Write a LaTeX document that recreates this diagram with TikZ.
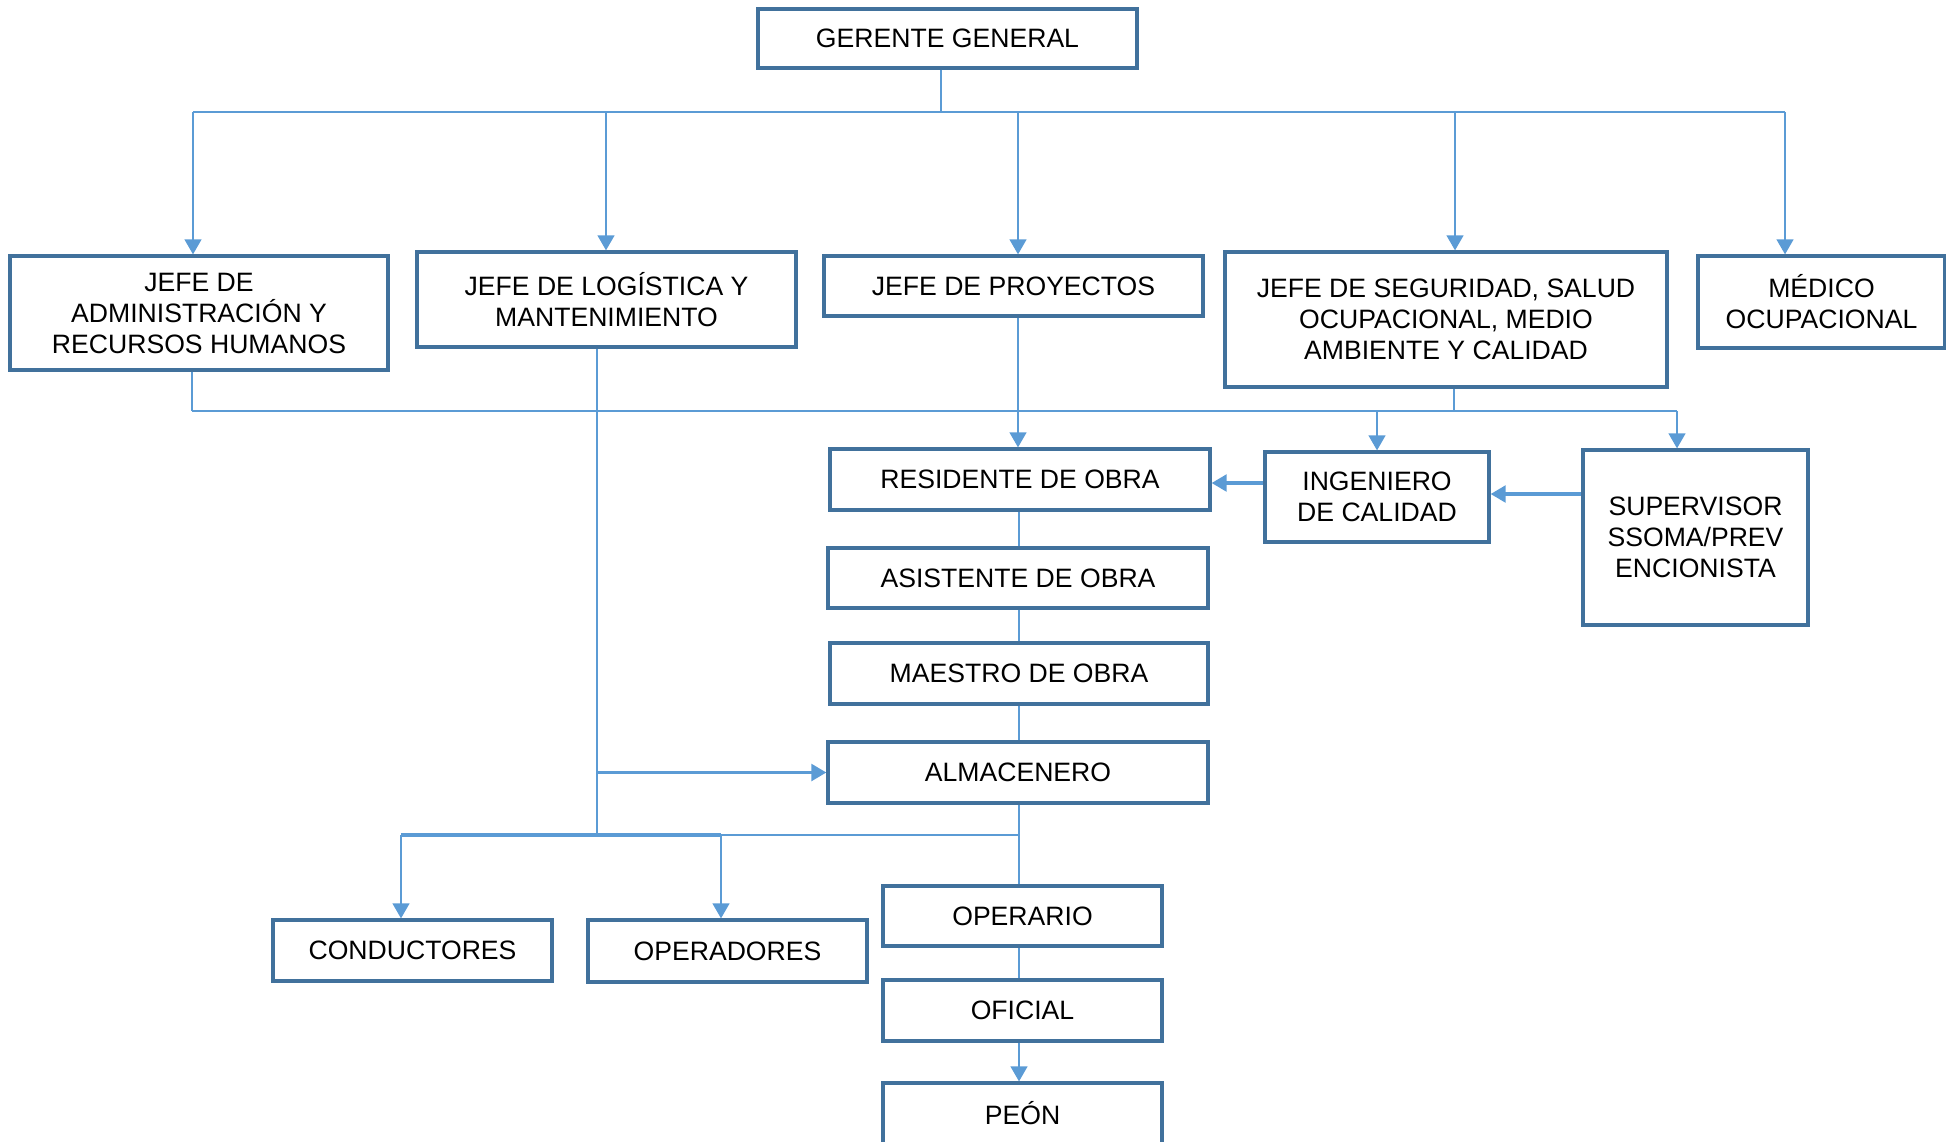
\documentclass[tikz,border=0pt]{standalone}
\usepackage{fontspec}
\setmainfont{Liberation Sans}
\usetikzlibrary{arrows.meta}
\definecolor{boxblue}{HTML}{41719C}
\definecolor{linkblue}{HTML}{5B9BD5}
\tikzset{
  box/.style={draw=boxblue, line width=1.6pt, fill=white, align=center,
    inner sep=0pt, font=\fontsize{13.3}{15.5}\selectfont},
  link/.style={draw=linkblue},
  lthin/.style={link, line width=0.7pt},
  lmed/.style={link, line width=1.2pt},
  lthick/.style={link, line width=1.7pt},
  arr/.style={-{Triangle[length=7.5pt,width=8.3pt]}, linkblue},
}
\begin{document}
\begin{tikzpicture}[x=0.5pt,y=-0.5pt]
\useasboundingbox (0,0) rectangle (1946,1141);

% organisation boxes
\node[box, minimum width=189.5pt, minimum height=29.5pt] (ger) at (947.5,38.5) {GERENTE GENERAL};
\node[box, minimum width=189pt, minimum height=57pt] (adm) at (199,313) {JEFE DE\\ADMINISTRACIÓN Y\\RECURSOS HUMANOS};
\node[box, minimum width=189.5pt, minimum height=47.5pt] (log) at (606.5,299.5) {JEFE DE LOGÍSTICA Y\\MANTENIMIENTO};
\node[box, minimum width=189.5pt, minimum height=30pt] (proy) at (1013.5,286) {JEFE DE PROYECTOS};
\node[box, minimum width=221pt, minimum height=67.5pt] (seg) at (1446,319.5) {JEFE DE SEGURIDAD, SALUD\\OCUPACIONAL, MEDIO\\AMBIENTE Y CALIDAD};
\node[box, minimum width=123.5pt, minimum height=46pt] (med) at (1821.5,302) {MÉDICO\\OCUPACIONAL};

\node[box, minimum width=190pt, minimum height=30.5pt] (res) at (1020,479.5) {RESIDENTE DE OBRA};
\node[box, minimum width=112pt, minimum height=45pt] (ing) at (1377,497) {INGENIERO\\DE CALIDAD};
\node[box, minimum width=112.5pt, minimum height=87.5pt] (sup) at (1695.5,537.5) {SUPERVISOR\\SSOMA/PREV\\ENCIONISTA};
\node[box, minimum width=190pt, minimum height=30pt] (asis) at (1018,578) {ASISTENTE DE OBRA};
\node[box, minimum width=189pt, minimum height=30.5pt] (mae) at (1019,673.5) {MAESTRO DE OBRA};
\node[box, minimum width=190pt, minimum height=30.5pt] (alm) at (1018,772.5) {ALMACENERO};

\node[box, minimum width=139.5pt, minimum height=30.5pt] (cond) at (412.5,950.5) {CONDUCTORES};
\node[box, minimum width=139.5pt, minimum height=31pt] (oper) at (727.5,951) {OPERADORES};
\node[box, minimum width=139.5pt, minimum height=30pt] (opr) at (1022.5,916) {OPERARIO};
\node[box, minimum width=139.5pt, minimum height=30.5pt] (ofi) at (1022.5,1010.5) {OFICIAL};
\node[box, minimum width=139.5pt, minimum height=30.5pt] (peon) at (1022.5,1113.5) {PEÓN};

% junction points of the connector bars
\coordinate (b0) at (941,112);
\coordinate (b1) at (193,112);
\coordinate (b2) at (606,112);
\coordinate (b3) at (1018,112);
\coordinate (b4) at (1455,112);
\coordinate (b5) at (1785,112);

\coordinate (c1) at (192,411);
\coordinate (cs) at (1454,411);
\coordinate (ci) at (1377,411);
\coordinate (ce) at (1677,411);

\coordinate (lg) at (597,835);
\coordinate (d1) at (401,835);
\coordinate (d2) at (721,835);
\coordinate (d3) at (1019,835);
\coordinate (v) at (1019,0);
\coordinate (h1) at (0,483);
\coordinate (h2) at (0,494);

% general manager to department heads
\draw[lthin] (ger.south -| b0) -- (b0);
\draw[lmed] (b1) -- (b5);
\draw[lmed, arr] (b1) -- (b1 |- adm.north);
\draw[lmed, arr] (b2) -- (b2 |- log.north);
\draw[lmed, arr] (b3) -- (b3 |- proy.north);
\draw[lmed, arr] (b4) -- (b4 |- seg.north);
\draw[lmed, arr] (b5) -- (b5 |- med.north);

% staff bar below the department heads
\draw[lthin] (adm.south -| c1) -- (c1);
\draw[lthin] (c1) -- (ce);
\draw[lthin] (seg.south -| cs) -- (cs);
\draw[lmed, arr] (ci) -- (ci |- ing.north);
\draw[lmed, arr] (ce) -- (ce |- sup.north);

% projects line
\draw[lmed, arr] (proy.south -| b3) -- (res.north -| b3);
\draw[lthick, arr] (ing.west |- h1) -- (res.east |- h1);
\draw[lthick, arr] (sup.west |- h2) -- (ing.east |- h2);
\draw[lthin] (res.south -| v) -- (asis.north -| v);
\draw[lthin] (asis.south -| v) -- (mae.north -| v);
\draw[lthin] (mae.south -| v) -- (alm.north -| v);

% logistics line
\draw[lthin] (log.south -| lg) -- (lg);
\draw[lthick, arr] (lg |- alm.west) -- (alm.west);
\draw[lthick] (d1) -- (d2);
\draw[lthin] (d2) -- (d3);
\draw[lmed, arr] (d1) -- (d1 |- cond.north);
\draw[lmed, arr] (d2) -- (d2 |- oper.north);

% site workers
\draw[lthin] (alm.south -| v) -- (opr.north -| v);
\draw[lthin] (opr.south -| v) -- (ofi.north -| v);
\draw[lmed, arr] (ofi.south -| v) -- (peon.north -| v);
\end{tikzpicture}
\end{document}
